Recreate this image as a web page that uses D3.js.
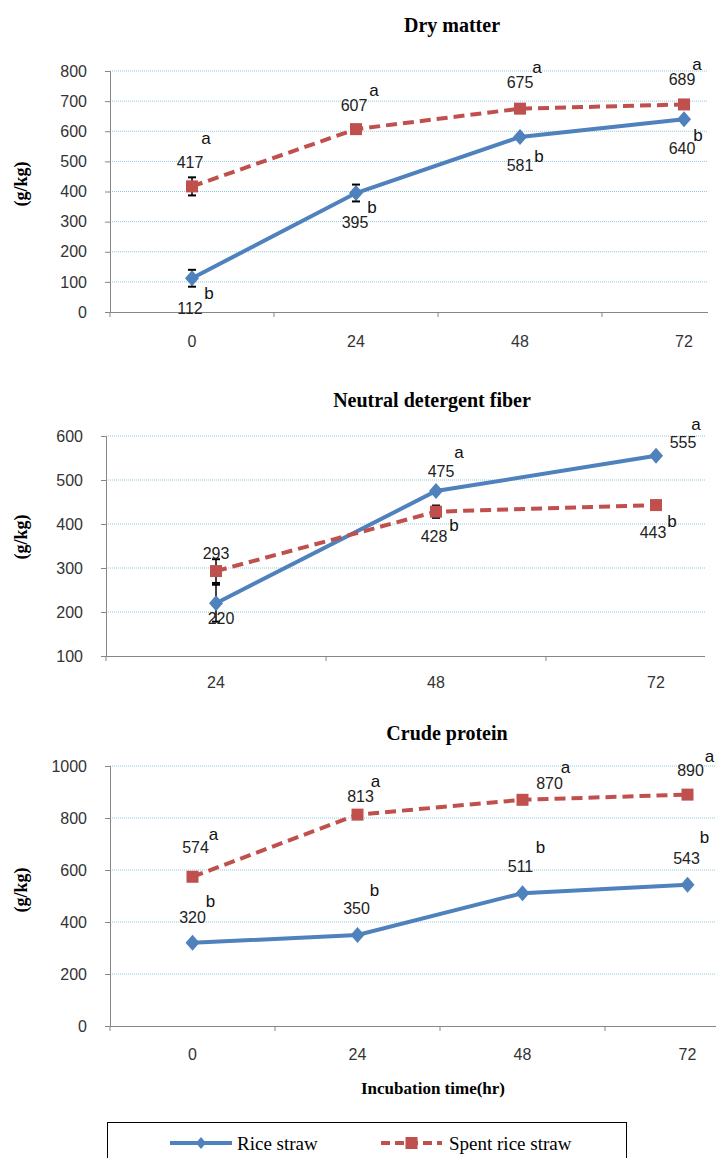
<!DOCTYPE html>
<html>
<head>
<meta charset="utf-8">
<script src="https://cdn.jsdelivr.net/npm/d3@7"></script>
<style>
body { margin: 0; background: #fff; }
</style>
</head>
<body>
<svg id="chart"></svg>
<script>

// categories
var times = ["0", "24", "48", "72"]
var ndfTimes = ["24", "48", "72"]

// dry matter
var dmRice = [112, 395, 581, 640]
var dmSpent = [417, 607, 675, 689]
var dmRiceErr = [28, 28, 0, 0]
var dmSpentErr = [30, 0, 0, 0]
var dmRiceLetters = ["b", "b", "b", "b"]
var dmSpentLetters = ["a", "a", "a", "a"]
var dmTicks = [0, 100, 200, 300, 400, 500, 600, 700, 800]

// neutral detergent fiber
var ndfRice = [220, 475, 555]
var ndfSpent = [293, 428, 443]
var ndfRiceErr = [42, 0, 0]
var ndfSpentErr = [27, 14, 0]
var ndfRiceLetters = ["", "a", "a"]
var ndfSpentLetters = ["", "b", "b"]
var ndfTicks = [100, 200, 300, 400, 500, 600]

// crude protein
var cpRice = [320, 350, 511, 543]
var cpSpent = [574, 813, 870, 890]
var cpRiceLetters = ["b", "b", "b", "b"]
var cpSpentLetters = ["a", "a", "a", "a"]
var cpTicks = [0, 200, 400, 600, 800, 1000]

var seriesNames = ["Rice straw", "Spent rice straw"]

// label offsets from the point: [numDx, numDy, letterDx, letterDy]
var dmRiceLab = [[-2, 30, 17, 15], [-1, 29, 16, 14], [0, 29, 19, 20], [-2, 29, 14, 16]]
var dmSpentLab = [[-2, -24, 14, -48], [-2, -24, 18, -39], [0, -26, 17, -41], [-2, -25, 13, -40]]
var ndfRiceLab = [[5, 15, 0, 0], [5, -20, 23, -39], [27, -13, 40, -31]]
var ndfSpentLab = [[0, -18, 0, 0], [-2, 25, 18, 14], [-3, 27, 16, 16]]
var cpRiceLab = [[0, -25, 18, -41], [-1, -27, 17, -45], [-2, -27, 18, -46], [-1, -26, 17, -47]]
var cpSpentLab = [[3, -29, 21, -42], [3, -18, 18, -33], [27, -16, 43, -32], [3, -24, 22, -38]]

var blue = "#4F81BD"
var red = "#C0504D"
var sans = "'Liberation Sans', Arial, sans-serif"
var serif = "'Liberation Serif', 'Times New Roman', serif"

var svg = d3.select("#chart")
    .attr("width", 716)
    .attr("height", 1158)

svg.append("rect")
    .attr("width", 716)
    .attr("height", 1158)
    .attr("fill", "#fff")

var diamond = "M0,-8L7,0L0,8L-7,0Z"

function drawPanel(p, idx){

    var clipId = "clip" + idx
    svg.append("clipPath").attr("id", clipId)
        .append("rect")
        .attr("x", 0).attr("y", p.clip[0])
        .attr("width", p.clipRight).attr("height", p.clip[1] - p.clip[0])

    var g = svg.append("g").attr("clip-path", "url(#" + clipId + ")")

    var xScale = d3.scaleBand()
        .domain(p.cats)
        .range(p.xRange)

    var yScale = d3.scaleLinear()
        .domain([p.ticks[0], p.ticks[p.ticks.length - 1]])
        .range(p.yRange)

    var cx = function(i){ return xScale(p.cats[i]) + xScale.bandwidth() / 2 }

    // title
    g.append("text")
        .attr("x", p.titleX)
        .attr("y", p.titleY)
        .attr("text-anchor", "middle")
        .attr("dominant-baseline", "central")
        .style("font-family", serif)
        .style("font-weight", "bold")
        .style("font-size", "20px")
        .text(p.title)

    // gridlines
    g.selectAll(".grid")
        .data(p.ticks.slice(1))
        .enter().append("line")
        .attr("x1", p.xRange[0])
        .attr("x2", p.xRange[1])
        .attr("y1", function(d){ return yScale(d) })
        .attr("y2", function(d){ return yScale(d) })
        .attr("stroke", "#93c8dc")
        .attr("stroke-width", 1)
        .attr("stroke-dasharray", "1,1")

    // y axis
    var y_axis = d3.axisLeft()
        .scale(yScale)
        .tickValues(p.ticks)
        .tickFormat(d3.format("d"))
        .tickSizeOuter(0)
        .tickSize(5)
        .tickPadding(18)

    var ya = g.append("g")
        .attr("transform", "translate(" + p.xRange[0] + ",0)")
        .call(y_axis)
    ya.select(".domain").attr("stroke", "#868686")
    ya.selectAll(".tick line").attr("stroke", "#868686")
    ya.selectAll(".tick text")
        .style("font-family", sans)
        .style("font-size", "16px")
        .attr("fill", "#333")

    // x axis
    var x_axis = d3.axisBottom()
        .scale(xScale)
        .tickSize(0)
        .tickSizeOuter(0)
        .tickPadding(p.xPad)

    var xa = g.append("g")
        .attr("transform", "translate(0," + p.yRange[0] + ")")
        .call(x_axis)
    xa.select(".domain").attr("stroke", "#868686")
    xa.selectAll(".tick text")
        .style("font-family", sans)
        .style("font-size", "16px")
        .attr("fill", "#333")

    g.selectAll(".xtick")
        .data(p.cats)
        .enter().append("line")
        .attr("x1", function(d){ return xScale(d) })
        .attr("x2", function(d){ return xScale(d) })
        .attr("y1", p.yRange[0])
        .attr("y2", p.yRange[0] + 5)
        .attr("stroke", "#868686")

    // y label
    g.append("text")
        .attr("transform", "translate(21," + p.yLabelY + ") rotate(-90)")
        .attr("text-anchor", "middle")
        .attr("dominant-baseline", "central")
        .style("font-family", serif)
        .style("font-weight", "bold")
        .style("font-size", "18px")
        .text("(g/kg)")

    var series = [
        {vals: p.rice, err: p.riceErr, color: blue, dash: null, marker: "diamond", letters: p.riceLetters, lab: p.riceLab},
        {vals: p.spent, err: p.spentErr, color: red, dash: "11,6", marker: "square", letters: p.spentLetters, lab: p.spentLab}
    ]

    // lines
    series.forEach(function(s){
        g.append("path")
            .datum(s.vals)
            .attr("d", d3.line()
                .x(function(d, i){ return cx(i) })
                .y(function(d){ return yScale(d) }))
            .attr("fill", "none")
            .attr("stroke", s.color)
            .attr("stroke-width", 4)
            .attr("stroke-dasharray", s.dash)
    })

    // error bars
    series.forEach(function(s){
        if(!s.err) return
        s.vals.forEach(function(v, i){
            var e = s.err[i]
            if(!e) return
            var x = cx(i)
            g.append("line")
                .attr("x1", x).attr("x2", x)
                .attr("y1", yScale(v - e)).attr("y2", yScale(v + e))
                .attr("stroke", "#000").attr("stroke-width", 1.5)
            ;[v - e, v + e].forEach(function(c){
                g.append("line")
                    .attr("x1", x - 4).attr("x2", x + 4)
                    .attr("y1", yScale(c)).attr("y2", yScale(c))
                    .attr("stroke", "#000").attr("stroke-width", 2)
            })
        })
    })

    // markers
    series.forEach(function(s){
        s.vals.forEach(function(v, i){
            if(s.marker == "diamond"){
                g.append("path")
                    .attr("d", diamond)
                    .attr("transform", "translate(" + cx(i) + "," + yScale(v) + ")")
                    .attr("fill", s.color)
            } else {
                g.append("rect")
                    .attr("x", cx(i) - 6).attr("y", yScale(v) - 6)
                    .attr("width", 12).attr("height", 12)
                    .attr("fill", s.color)
            }
        })
    })

    // value labels and letters
    series.forEach(function(s){
        s.vals.forEach(function(v, i){
            var o = s.lab[i]
            g.append("text")
                .attr("x", cx(i) + o[0])
                .attr("y", yScale(v) + o[1])
                .attr("text-anchor", "middle")
                .attr("dominant-baseline", "central")
                .style("font-family", sans)
                .style("font-size", "16px")
                .attr("fill", "#222")
                .text(v)
            if(s.letters[i]){
                g.append("text")
                    .attr("x", cx(i) + o[2])
                    .attr("y", yScale(v) + o[3])
                    .attr("text-anchor", "middle")
                    .attr("dominant-baseline", "central")
                    .style("font-family", sans)
                    .style("font-size", "17px")
                    .attr("fill", "#111")
                    .text(s.letters[i])
            }
        })
    })
}

var panels = [
    {title: "Dry matter", titleX: 452, titleY: 25, cats: times, ticks: dmTicks,
     rice: dmRice, spent: dmSpent, riceErr: dmRiceErr, spentErr: dmSpentErr,
     riceLetters: dmRiceLetters, spentLetters: dmSpentLetters, riceLab: dmRiceLab, spentLab: dmSpentLab,
     xRange: [110, 766], yRange: [312, 71], clip: [0, 347], clipRight: 708, xPad: 24, yLabelY: 184},
    {title: "Neutral detergent fiber", titleX: 432, titleY: 400, cats: ndfTimes, ticks: ndfTicks,
     rice: ndfRice, spent: ndfSpent, riceErr: ndfRiceErr, spentErr: ndfSpentErr,
     riceLetters: ndfRiceLetters, spentLetters: ndfSpentLetters, riceLab: ndfRiceLab, spentLab: ndfSpentLab,
     xRange: [106, 766], yRange: [656, 436], clip: [380, 690], clipRight: 705, xPad: 21, yLabelY: 537},
    {title: "Crude protein", titleX: 447, titleY: 733, cats: times, ticks: cpTicks,
     rice: cpRice, spent: cpSpent, riceErr: null, spentErr: null,
     riceLetters: cpRiceLetters, spentLetters: cpSpentLetters, riceLab: cpRiceLab, spentLab: cpSpentLab,
     xRange: [110, 770], yRange: [1026, 766], clip: [710, 1158], clipRight: 716, xPad: 23, yLabelY: 890}
]

panels.forEach(drawPanel)

// x axis title
svg.append("text")
    .attr("x", 433)
    .attr("y", 1088)
    .attr("text-anchor", "middle")
    .attr("dominant-baseline", "central")
    .style("font-family", serif)
    .style("font-weight", "bold")
    .style("font-size", "17px")
    .text("Incubation time(hr)")

// legend
var legend = svg.append("g")
legend.append("rect")
    .attr("x", 107.5).attr("y", 1122.5)
    .attr("width", 519).attr("height", 60)
    .attr("fill", "none")
    .attr("stroke", "#000")
    .attr("stroke-width", 1)

var legendItems = [
    {name: seriesNames[0], color: blue, dash: null, x0: 170, x1: 232, tx: 237, marker: "diamond"},
    {name: seriesNames[1], color: red, dash: "9,5", x0: 381, x1: 442, tx: 449, marker: "square"}
]
legendItems.forEach(function(it){
    var ly = 1143
    legend.append("line")
        .attr("x1", it.x0).attr("x2", it.x1)
        .attr("y1", ly).attr("y2", ly)
        .attr("stroke", it.color)
        .attr("stroke-width", 4)
        .attr("stroke-dasharray", it.dash)
    var mx = (it.x0 + it.x1) / 2
    if(it.marker == "diamond"){
        legend.append("path")
            .attr("d", "M0,-6L5,0L0,6L-5,0Z")
            .attr("transform", "translate(" + mx + "," + ly + ")")
            .attr("fill", it.color)
    } else {
        legend.append("rect")
            .attr("x", mx - 6).attr("y", ly - 6)
            .attr("width", 12).attr("height", 12)
            .attr("fill", it.color)
    }
    legend.append("text")
        .attr("x", it.tx)
        .attr("y", ly)
        .attr("dominant-baseline", "central")
        .style("font-family", serif)
        .style("font-size", "19px")
        .text(it.name)
})

</script>
</body>
</html>
